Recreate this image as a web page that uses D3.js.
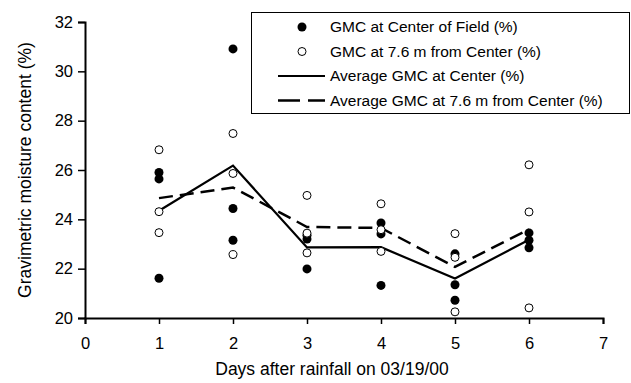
<!DOCTYPE html>
<html>
<head>
<meta charset="utf-8">
<script src="https://cdn.jsdelivr.net/npm/d3@7"></script>
<style>
  body { margin: 0; background: #fff; }
  svg { display: block; font-family: Arial, "Liberation Sans", sans-serif; }
</style>
</head>
<body>
<svg id="chart" width="631" height="383"></svg>
<script>
// ---- data ----
const days = [1, 2, 3, 4, 5, 6];
const centerGMC = [
  [25.9, 25.64, 21.61],
  [30.91, 24.44, 23.15],
  [23.35, 23.2, 21.99],
  [23.85, 23.41, 21.32],
  [22.6, 21.35, 20.72],
  [23.45, 23.15, 22.85]
];
const outerGMC = [
  [26.82, 24.31, 23.46],
  [27.48, 25.86, 22.57],
  [24.97, 23.44, 22.64],
  [24.63, 23.58, 22.7],
  [23.42, 22.46, 20.25],
  [26.21, 24.3, 20.41]
];
const avgCenter = [24.35, 26.18, 22.86, 22.87, 21.6, 23.17];
const avgOuter = [24.86, 25.29, 23.69, 23.65, 22.07, 23.6];
const xTicks = [0, 1, 2, 3, 4, 5, 6, 7];
const yTicks = [20, 22, 24, 26, 28, 30, 32];
const legendLabels = [
  "GMC at Center of Field (%)",
  "GMC at 7.6 m from Center (%)",
  "Average GMC at Center (%)",
  "Average GMC at 7.6 m from Center (%)"
];

// ---- layout ----
const svg = d3.select("#chart");
const mLeft = 85, mRight = 603, mTop = 22, mBottom = 318;
const x = d3.scaleLinear().domain([0, 7]).range([mLeft, mRight]);
const y = d3.scaleLinear().domain([20, 32]).range([mBottom, mTop]);

// axes
const xAxis = svg.append("g").attr("transform", `translate(0,${mBottom})`)
  .call(d3.axisBottom(x).tickValues(xTicks).tickFormat(d3.format("d")).tickSize(6).tickPadding(13));
const yAxis = svg.append("g").attr("transform", `translate(${mLeft},0)`)
  .call(d3.axisLeft(y).tickValues(yTicks).tickFormat(d3.format("d")).tickSize(7).tickPadding(5));
[xAxis, yAxis].forEach(g => {
  g.select(".domain").attr("stroke", "#000").attr("stroke-width", 2);
  g.selectAll(".tick line").attr("stroke", "#000").attr("stroke-width", 1.5);
  g.selectAll(".tick text").attr("fill", "#000").attr("font-size", 16.5)
    .attr("font-family", "Arial, 'Liberation Sans', sans-serif");
});

// axis titles
svg.append("text").attr("x", 332).attr("y", 375)
  .attr("text-anchor", "middle").attr("font-size", 17.5).attr("fill", "#000")
  .text("Days after rainfall on 03/19/00");
svg.append("text").attr("transform", `translate(31,${(mTop + mBottom) / 2}) rotate(-90)`)
  .attr("text-anchor", "middle").attr("font-size", 17.5).attr("fill", "#000")
  .text("Gravimetric moisture content (%)");

// lines
const line = d3.line().x((d, i) => x(days[i])).y(d => y(d));
svg.append("path").datum(avgCenter).attr("d", line)
  .attr("fill", "none").attr("stroke", "#000").attr("stroke-width", 2.2);
svg.append("path").datum(avgOuter).attr("d", line)
  .attr("fill", "none").attr("stroke", "#000").attr("stroke-width", 2.5)
  .attr("stroke-dasharray", "14,7");

// points
const flat = (arr) => arr.flatMap((vals, i) => vals.map(v => ({ day: days[i], v })));
svg.append("g").selectAll("circle").data(flat(centerGMC)).join("circle")
  .attr("cx", d => x(d.day)).attr("cy", d => y(d.v)).attr("r", 4.5)
  .attr("fill", "#000");
svg.append("g").selectAll("circle").data(flat(outerGMC)).join("circle")
  .attr("cx", d => x(d.day)).attr("cy", d => y(d.v)).attr("r", 4)
  .attr("fill", "#fff").attr("stroke", "#000").attr("stroke-width", 1);

// legend
const lg = svg.append("g");
lg.append("rect").attr("x", 251.5).attr("y", 12.5).attr("width", 378).attr("height", 101)
  .attr("fill", "#fff").attr("stroke", "#000").attr("stroke-width", 1);
const rowY = [27, 51.5, 76, 100.5];
legendLabels.forEach((t, i) => {
  lg.append("text").attr("x", 330).attr("y", rowY[i]).attr("dy", "0.35em")
    .attr("font-size", 15.5).attr("fill", "#000").text(t);
});
lg.append("circle").attr("cx", 302).attr("cy", rowY[0]).attr("r", 4.5).attr("fill", "#000");
lg.append("circle").attr("cx", 302).attr("cy", rowY[1]).attr("r", 4)
  .attr("fill", "#fff").attr("stroke", "#000").attr("stroke-width", 1);
lg.append("line").attr("x1", 278).attr("x2", 325).attr("y1", rowY[2]).attr("y2", rowY[2])
  .attr("stroke", "#000").attr("stroke-width", 2.2);
lg.append("line").attr("x1", 278).attr("x2", 325).attr("y1", rowY[3]).attr("y2", rowY[3])
  .attr("stroke", "#000").attr("stroke-width", 2.5).attr("stroke-dasharray", "22,8");
</script>
</body>
</html>
